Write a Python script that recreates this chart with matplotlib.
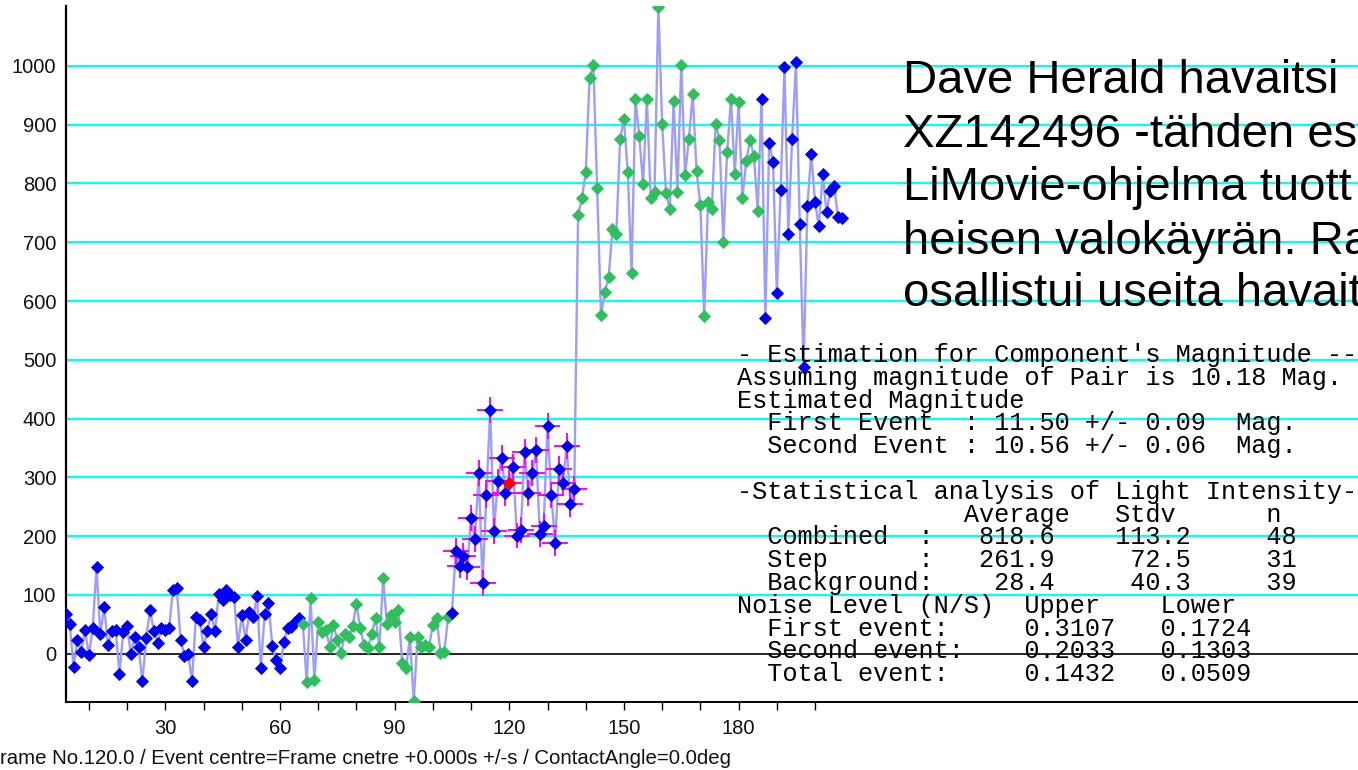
import numpy as np
import matplotlib
matplotlib.use("Agg")
import matplotlib.pyplot as plt

# light curve values, one per frame
bg_blue_start = 4
bg_blue = [68, 50, -22, 24, 3, 40, -2, 43, 147, 33,
           80, 15, 38, 41, -34, 37, 47, -1, 29, 12,
           -47, 26, 74, 39, 18, 44, 40, 44, 108, 111,
           24, -4, -1, -47, 63, 57, 12, 38, 67, 38,
           102, 92, 108, 100, 96, 12, 65, 24, 71, 63,
           98, -25, 68, 86, 13, -11, -25, 20, 43, 46,
           54, 60]
bg_green_start = 66
bg_green = [50, -49, 95, -45, 54, 37, 41, 12, 49, 23,
            1, 34, 28, 47, 85, 43, 15, 9, 34, 60,
            12, 128, 50, 66, 54, 74, -16, -25, 28, -81,
            29, 12, 14, 12, 49, 60, 1, 3, 63]
pre_step_frame = 105
pre_step_value = 70
step_start = 106
step = [175, 150, 167, 147, 231, 195, 307, 120, 270, 414,
        209, 293, 333, 274, 290, 317, 201, 210, 343, 274,
        307, 347, 203, 218, 388, 270, 188, 314, 290, 353,
        254, 281]
centre_frame = 120
top_green_start = 138
top_green = [746, 775, 819, 979, 1002, 792, 576, 616, 641, 723,
             714, 876, 909, 819, 648, 944, 881, 799, 944, 776,
             786, 1101, 901, 783, 757, 941, 786, 1002, 815, 876,
             953, 821, 763, 574, 768, 757, 901, 874, 701, 854,
             944, 816, 939, 775, 838, 874, 847, 754]
top_blue_start = 186
top_blue = [944, 572, 869, 837, 613, 789, 999, 714, 876, 1006,
            731, 487, 762, 851, 769, 727, 816, 751, 788, 796,
            743, 742]

step_xerr = 3.4
step_yerr = 22

grid_levels = [100, 200, 300, 400, 500, 600, 700, 800, 900, 1000]
x_ticks = list(range(10, 201, 10))
x_labels = [str(t) if t % 30 == 0 and t <= 180 else "" for t in x_ticks]

bottom_note = "rame No.120.0 / Event centre=Frame cnetre +0.000s +/-s / ContactAngle=0.0deg"
fi_lines = ["Dave Herald havaitsi",
            "XZ142496 -tähden es",
            "LiMovie-ohjelma tuott",
            "heisen valokäyrän. Ra",
            "osallistui useita havait"]
stats_lines = ["- Estimation for Component's Magnitude --",
               "Assuming magnitude of Pair is 10.18 Mag.",
               "Estimated Magnitude",
               "  First Event  : 11.50 +/- 0.09  Mag.",
               "  Second Event : 10.56 +/- 0.06  Mag.",
               "",
               "-Statistical analysis of Light Intensity-",
               "               Average   Stdv      n",
               "  Combined  :   818.6    113.2     48",
               "  Step      :   261.9     72.5     31",
               "  Background:    28.4     40.3     39",
               "Noise Level (N/S)  Upper    Lower",
               "  First event:     0.3107   0.1724",
               "  Second event:    0.2033   0.1303",
               "  Total event:     0.1432   0.0509"]

BLUE = "#0000f5"
GREEN = "#2fbf5c"
LINE = "#9d9dff"

W, H = 1358, 770
fig = plt.figure(figsize=(W / 100, H / 100), dpi=100)
fig.patch.set_facecolor("white")

left_px, top_px, bottom_px = 66, 6, 702.3
ax = fig.add_axes([left_px / W, 1 - bottom_px / H, 1 - left_px / W, (bottom_px - top_px) / H])

px_per_frame = 3.822
x0 = 30 + (left_px - 165.3) / px_per_frame
x1 = 30 + (W - 165.3) / px_per_frame
ax.set_xlim(x0, x1)
ax.set_ylim(-82.7, 1102)

for g in grid_levels:
    ax.axhline(g, color="#00ffff", lw=1.6, zorder=1)
ax.axhline(0, color="black", lw=1.2, zorder=1)

# assemble the whole curve for the connecting line
f_bb = np.arange(len(bg_blue)) + bg_blue_start
f_bg = np.arange(len(bg_green)) + bg_green_start
f_st = np.arange(len(step)) + step_start
f_tg = np.arange(len(top_green)) + top_green_start
f_tb = np.arange(len(top_blue)) + top_blue_start

all_f = np.concatenate([f_bb, f_bg, [pre_step_frame], f_st, f_tg, f_tb])
all_v = np.concatenate([bg_blue, bg_green, [pre_step_value], step, top_green, top_blue])
ax.plot(all_f, all_v, color=LINE, lw=1.7, zorder=2)

ax.errorbar(f_st, step, xerr=step_xerr, yerr=step_yerr, fmt="none",
            ecolor="#ff00ff", elinewidth=1.4, capsize=0, zorder=3)

mk = dict(marker="D", ms=6.3, ls="none", zorder=4, mew=0.6)
ax.plot(f_bb, bg_blue, color=BLUE, **mk)
ax.plot(f_bg, bg_green, color=GREEN, **mk)
ax.plot([pre_step_frame], [pre_step_value], color=BLUE, **mk)
ax.plot(f_st, step, color=BLUE, **mk)
ci = list(f_st).index(centre_frame)
ax.plot([centre_frame], [step[ci]], color="#ff0000", **mk)
ax.plot(f_tg, top_green, color=GREEN, **mk)
ax.plot(f_tb, top_blue, color=BLUE, **mk)

for s in ["top", "right"]:
    ax.spines[s].set_visible(False)
ax.spines["left"].set_linewidth(1.6)
ax.spines["bottom"].set_linewidth(1.4)

ax.set_xticks(x_ticks)
ax.set_xticklabels(x_labels)
ax.set_yticks([0] + grid_levels)
ax.tick_params(axis="x", direction="out", length=6, width=1, pad=6)
ax.tick_params(axis="y", length=0, pad=7)
for lab in ax.get_xticklabels() + ax.get_yticklabels():
    lab.set_family("Liberation Sans")
    lab.set_fontsize(14.5)
    lab.set_color("#111111")

fig.text(0, 1 - 758 / H, bottom_note, family="Liberation Sans", fontsize=14.7,
         va="center", ha="left", color="#111111")

fi_base = [93.3, 146.7, 199.5, 253.5, 306.5]
for txt, yb in zip(fi_lines, fi_base):
    fig.text(903 / W, 1 - yb / H, txt, family="Liberation Sans", fontsize=34,
             va="baseline", ha="left", color="black", zorder=6)

for i, txt in enumerate(stats_lines):
    if not txt:
        continue
    yc = 355 + 22.8 * i
    fig.text(737 / W, 1 - yc / H, txt, family="Liberation Mono", fontsize=18.2,
             va="center", ha="left", color="black", zorder=6)

fig.savefig("out.png", dpi=100)
